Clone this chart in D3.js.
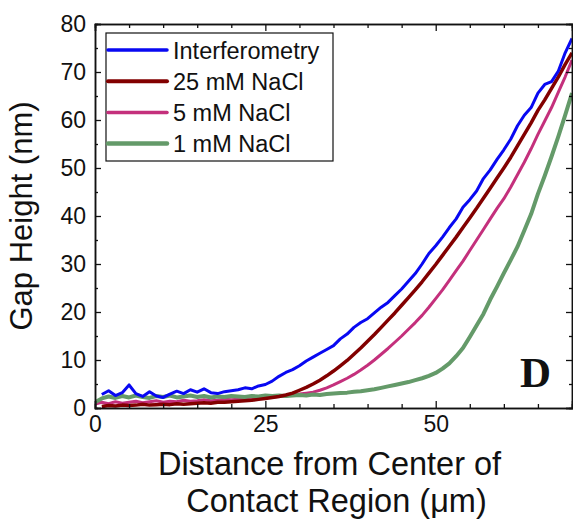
<!DOCTYPE html>
<html>
<head>
<meta charset="utf-8">
<script src="https://cdn.jsdelivr.net/npm/d3@7"></script>
<style>
  body { margin: 0; background: #fff; }
  text { font-family: Arial, "Liberation Sans", sans-serif; fill: #111; }
</style>
</head>
<body>
<div id="chart"></div>
<script>
// distance from center (um), one sample per micron
const distance = [0,1,2,3,4,5,6,7,8,9,10,11,12,13,14,15,16,17,18,19,20,21,22,23,24,25,26,27,28,29,30,
  31,32,33,34,35,36,37,38,39,40,41,42,43,44,45,46,47,48,49,50,51,52,53,54,55,56,57,58,59,60,
  61,62,63,64,65,66,67,68,69,70];

// gap height (nm)
const interferometry = [null,2.8,3.6,2.6,3.2,4.8,3.0,2.4,3.4,2.5,2.2,2.9,3.5,3.0,3.8,3.3,4.0,3.2,3.0,3.4,3.6,
  3.8,4.2,4.0,4.6,4.9,5.6,6.6,7.4,8.0,8.8,9.8,10.6,11.4,12.2,13.0,14.4,15.4,16.8,17.8,18.6,
  19.8,21.0,22.0,23.4,24.8,26.4,28.0,30.0,32.2,33.8,35.6,37.6,39.4,41.8,43.4,45.2,47.8,49.6,51.8,53.8,
  56.0,58.8,61.0,62.6,65.6,67.4,68.0,70.2,74.0,77.0];
const nacl25 = [null,0.3,0.5,0.4,0.6,0.5,0.6,0.8,0.6,0.7,0.8,0.7,0.9,0.8,0.9,1.0,1.1,1.0,1.2,1.2,1.3,
  1.4,1.5,1.6,1.8,2.0,2.2,2.4,2.7,3.1,3.7,4.3,5.0,5.8,6.7,7.7,8.8,9.9,11.2,12.5,13.9,
  15.3,16.8,18.3,19.8,21.4,23.0,24.6,26.3,28.1,29.9,31.8,33.7,35.6,37.6,39.6,41.6,43.7,45.8,47.9,50.0,
  52.2,54.6,57.0,59.4,62.0,64.2,66.6,69.0,71.6,74.0];
const nacl5 = [0.8,1.2,0.9,1.3,1.0,1.2,1.4,1.1,1.3,1.5,1.2,1.4,1.3,1.6,1.4,1.5,1.7,1.5,1.6,1.8,1.7,
  1.8,1.9,2.0,2.1,2.2,2.3,2.4,2.5,2.7,2.9,3.1,3.3,3.7,4.2,4.8,5.5,6.2,7.0,7.9,8.9,
  10.0,11.2,12.4,13.7,15.0,16.4,17.8,19.3,21.0,22.8,24.6,26.6,28.6,30.6,32.8,35.0,37.2,39.4,41.6,43.6,
  46.0,48.6,51.2,54.0,57.0,59.8,62.6,65.8,69.0,72.5];
const nacl1 = [1.2,2.0,2.4,2.1,2.5,2.2,2.6,2.3,2.1,2.5,2.3,2.6,2.2,2.4,2.6,2.3,2.5,2.2,2.4,2.3,2.5,
  2.4,2.3,2.5,2.4,2.6,2.5,2.6,2.5,2.6,2.7,2.6,2.8,2.7,2.9,3.0,3.1,3.2,3.4,3.5,3.7,
  3.9,4.2,4.5,4.8,5.1,5.4,5.8,6.2,6.7,7.3,8.2,9.3,10.8,12.5,14.8,17.2,19.6,22.6,25.3,28.1,
  30.8,33.6,37.0,40.4,44.6,48.4,52.4,56.6,61.0,65.6];

const seriesNames = ["Interferometry", "25 mM NaCl", "5 mM NaCl", "1 mM NaCl"];
const seriesValues = [interferometry, nacl25, nacl5, nacl1];
const seriesColors = ["#0808f2", "#820000", "#c4307c", "#649a69"];
const seriesWidths = [3, 3.5, 3, 4];
const drawOrder = [2, 3, 1, 0];

const xMajor = [0, 25, 50];
const yMajor = [0, 10, 20, 30, 40, 50, 60, 70, 80];

const svgWidth = 573, svgHeight = 521;
const margin = { top: 24, right: 1, bottom: 113, left: 95 };
const width = svgWidth - margin.left - margin.right;
const height = svgHeight - margin.top - margin.bottom;

const svg = d3.select("#chart").append("svg")
  .attr("width", svgWidth)
  .attr("height", svgHeight);

const x = d3.scaleLinear().domain([0, 70]).range([margin.left, margin.left + width]);
const y = d3.scaleLinear().domain([0, 80]).range([margin.top + height, margin.top]);

svg.append("clipPath").attr("id", "plot")
  .append("rect")
  .attr("x", margin.left).attr("y", margin.top)
  .attr("width", width).attr("height", height);

// lines
const line = d3.line()
  .defined(d => d[1] != null)
  .x(d => x(d[0]))
  .y(d => y(d[1]));

const lines = svg.append("g").attr("clip-path", "url(#plot)");
drawOrder.forEach(function (i) {
  lines.append("path")
    .datum(distance.map((d, j) => [d, seriesValues[i][j]]))
    .attr("fill", "none")
    .attr("stroke", seriesColors[i])
    .attr("stroke-width", seriesWidths[i])
    .attr("stroke-linejoin", "round")
    .attr("d", line);
});

// axes, ticks point inward
const xMinor = d3.range(0, 71, 5).filter(v => xMajor.indexOf(v) < 0);
const yMinor = d3.range(5, 80, 10);

function styleAxis(g) {
  g.select(".domain").attr("stroke", "#111").attr("stroke-width", 1.5);
  g.selectAll(".tick line").attr("stroke", "#111").attr("stroke-width", 1.3);
  g.selectAll(".tick text").style("font-size", "23px").attr("fill", "#111");
}

svg.append("g")
  .attr("transform", "translate(0," + (margin.top + height) + ")")
  .call(d3.axisBottom(x).tickValues(xMajor).tickSize(-7).tickPadding(8).tickFormat(d3.format("d")))
  .call(styleAxis);
svg.append("g")
  .attr("transform", "translate(0," + (margin.top + height) + ")")
  .call(d3.axisBottom(x).tickValues(xMinor).tickSize(-4).tickFormat(""))
  .call(styleAxis);
svg.append("g")
  .attr("transform", "translate(0," + margin.top + ")")
  .call(d3.axisTop(x).tickValues(xMajor).tickSize(-7).tickFormat(""))
  .call(styleAxis);
svg.append("g")
  .attr("transform", "translate(0," + margin.top + ")")
  .call(d3.axisTop(x).tickValues(xMinor).tickSize(-4).tickFormat(""))
  .call(styleAxis);

svg.append("g")
  .attr("transform", "translate(" + margin.left + ",0)")
  .call(d3.axisLeft(y).tickValues(yMajor).tickSize(-6).tickPadding(9).tickFormat(d3.format("d")))
  .call(styleAxis);
svg.append("g")
  .attr("transform", "translate(" + margin.left + ",0)")
  .call(d3.axisLeft(y).tickValues(yMinor).tickSize(-3).tickFormat(""))
  .call(styleAxis);
svg.append("g")
  .attr("transform", "translate(" + (margin.left + width) + ",0)")
  .call(d3.axisRight(y).tickValues(yMajor).tickSize(-6).tickFormat(""))
  .call(styleAxis);
svg.append("g")
  .attr("transform", "translate(" + (margin.left + width) + ",0)")
  .call(d3.axisRight(y).tickValues(yMinor).tickSize(-3).tickFormat(""))
  .call(styleAxis);

// axis titles
svg.append("text")
  .attr("transform", "translate(32," + (margin.top + height / 2) + ") rotate(-90)")
  .attr("text-anchor", "middle")
  .style("font-size", "31px")
  .text("Gap Height (nm)");

svg.append("text")
  .attr("x", margin.left + width / 2 - 4).attr("y", 475)
  .attr("text-anchor", "middle")
  .style("font-size", "32.5px")
  .text("Distance from Center of");
svg.append("text")
  .attr("x", margin.left + width / 2 + 3).attr("y", 512)
  .attr("text-anchor", "middle")
  .style("font-size", "32.5px")
  .text("Contact Region (\u03bcm)");

// panel letter
svg.append("text")
  .attr("x", 520).attr("y", 387)
  .style("font-family", "'Liberation Serif', 'Times New Roman', serif")
  .style("font-weight", "bold")
  .style("font-size", "43px")
  .text("D");

// legend
const legend = svg.append("g");
legend.append("rect")
  .attr("x", 106).attr("y", 33)
  .attr("width", 227).attr("height", 128)
  .attr("fill", "#fff")
  .attr("stroke", "#111")
  .attr("stroke-width", 1.2);

seriesNames.forEach(function (name, i) {
  const ly = 50 + i * 31.2;
  legend.append("line")
    .attr("x1", 108).attr("x2", 167)
    .attr("y1", ly).attr("y2", ly)
    .attr("stroke", seriesColors[i])
    .attr("stroke-width", seriesWidths[i] + 0.5)
    .attr("stroke-linecap", "round");
  legend.append("text")
    .attr("x", 173).attr("y", ly + 8.5)
    .style("font-size", "23.5px")
    .text(name);
});
</script>
</body>
</html>
